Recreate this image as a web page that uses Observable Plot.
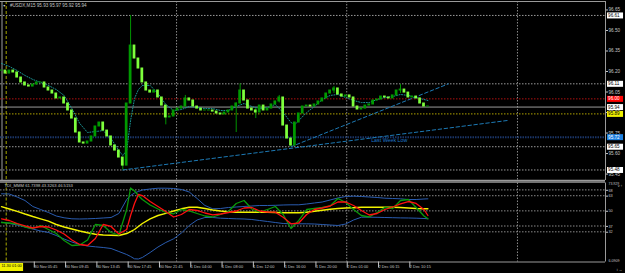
<!DOCTYPE html>
<html><head><meta charset="utf-8">
<script src="https://cdn.jsdelivr.net/npm/d3@7"></script>
<script src="https://cdn.jsdelivr.net/npm/@observablehq/plot@0.6"></script>
<style>
html,body{margin:0;padding:0;background:#000;}
#chart{position:relative;width:625px;height:273px;background:#000;overflow:hidden}
#chart svg{display:block}
</style></head><body><div id="chart"></div>
<script>
// ---------- DATA ----------
const headerText = "#USDX,M15 95.93 95.97 95.92 95.94";
const tdiText = "TDI_MMM 61.7398 43.3263 46.5153";
const cursorLabel = "11.30 01:00";

// closes, one per 2 M15 bars (bar index = k*2)
const closes = [
 96.207,96.185,96.207,96.193,96.156,96.120,96.098,96.090,96.105,96.120,
 96.120,96.083,96.061,96.039,96.003,96.010,95.966,95.915,95.856,95.754,
 95.681,95.673,95.688,95.725,95.798,95.827,95.768,95.725,95.659,95.622,
 95.571,95.512,95.966,96.390,96.295,96.222,96.120,96.061,96.046,96.061,
 96.010,95.951,95.864,95.871,95.915,95.929,95.944,96.003,95.988,95.944,
 95.929,95.915,95.915,95.915,95.907,95.893,95.886,95.900,95.915,95.944,
 95.966,96.061,95.988,95.929,95.915,95.900,95.951,95.915,95.929,95.959,
 95.981,96.010,95.805,95.710,95.659,95.827,95.893,95.944,95.951,95.944,
 95.959,95.981,96.003,96.039,96.061,96.076,96.032,96.017,96.025,96.010,
 95.944,95.922,95.929,95.951,95.959,95.988,95.995,96.017,96.010,96.003,
 96.025,96.061,96.068,96.046,96.010,96.017,96.003,95.966,95.944,95.944
];
const barStep = 2;
const wickBars  = [62, 66, 84, 94, 120, 122, 130, 142, 148, 170, 204];
const wickHighs = [95.57, 96.61, 95.95, 96.025, 95.97, 96.11, 95.93, 96.025, 95.70, 96.09, 96.105];
const wickLows  = [95.48, 95.97, 95.81, 95.98, 95.754, 96.03, 95.856, 95.97, 95.65, 96.04, 96.04];

const maBars = [0,4,8,12,16,20,24,28,32,36,40,44,48,52,56,60,62,64,66,68,70,72,76,80,84,88,92,96,100,104,108,112,116,120,124,128,132,136,140,144,148,150,152,156,160,164,168,172,176,180,184,188,192,196,200,204,208,212,218];
const maValues = [96.259,96.237,96.207,96.171,96.142,96.120,96.098,96.068,96.025,95.929,95.820,95.754,95.761,95.768,95.710,95.622,95.586,95.622,95.842,96.003,96.068,96.098,96.098,96.039,95.959,95.915,95.922,95.944,95.937,95.929,95.929,95.915,95.915,95.944,95.966,95.944,95.929,95.937,95.959,95.900,95.827,95.812,95.842,95.900,95.944,95.995,96.025,96.032,96.010,95.988,95.973,95.973,95.995,96.010,96.017,96.032,96.025,96.010,95.988];

const weekLowBars = [62, 258.7];
const weekLowPrices = [95.48, 95.842];
const trendBars = [148, 228.5];
const trendPrices = [95.65, 96.11];
const weekLowLabel = {text: "Last Week Low", bar: 189, price: 95.70};

const levelValues = [96.61, 96.11, 96.00, 95.94, 95.89, 95.72, 95.65, 95.48];
const levelKinds  = ["grey","grey","red","bid","yellow","blue","grey","grey"];
const priceTicks = [96.65, 96.50, 96.35, 96.20, 96.05, 95.90, 95.75, 95.60, 95.45];

const gridBars = [89.5, 176.5, 263.8];
const cursorBar = 2.4;
const edgeBar = 0.26;

const timeTickBars = [16,32,48,64,80,96,112,128,144,160,176,192,208];
const timeLabels = ["30 Nov 05:45","30 Nov 09:45","30 Nov 13:45","30 Nov 17:45","30 Nov 21:45","1 Dec 04:00","1 Dec 08:00","1 Dec 12:00","1 Dec 16:00","1 Dec 20:00","2 Dec 01:00","2 Dec 06:15","2 Dec 10:15"];

const tdiBars = [0,4,8,12,16,20,24,28,32,36,40,44,48,52,56,60,64,66,68,70,72,76,80,84,88,92,96,100,104,108,112,116,120,124,128,132,136,140,144,148,152,156,160,164,168,172,176,180,184,188,192,196,200,204,208,212,216,218];
const tdiUpper = [64.66,64.48,61.91,58.90,53.75,51.17,48.60,45.59,44.05,43.19,43.02,43.19,43.45,43.88,44.30,47.74,59.76,63.19,65.34,66.63,67.92,68.78,69.46,69.46,69.21,68.35,66.20,60.62,54.61,51.77,52.03,52.89,53.32,53.75,54.18,54.61,54.61,54.78,55.04,55.21,55.21,55.90,56.76,57.61,59.33,61.05,62.34,62.60,62.34,61.91,61.48,60.88,60.62,60.36,59.76,59.76,60.19,60.36];
const tdiLower = [40.27,39.15,37.86,36.15,34.43,32.71,31.42,28.85,25.84,23.26,21.12,19.83,19.14,18.54,17.69,15.11,12.53,10.82,8.84,8.67,9.96,14.25,18.97,22.84,26.01,31.00,37.44,42.16,44.30,44.30,43.70,43.45,43.19,43.02,42.59,41.73,40.87,40.01,39.15,38.89,38.89,38.89,38.72,38.29,37.86,37.44,38.72,42.16,44.56,44.56,44.47,44.30,44.13,43.96,43.88,43.70,43.45,43.19];
const tdiMid = [53.58,51.60,49.63,47.31,45.16,43.19,41.13,38.29,36.15,34.43,32.71,31.17,29.96,29.28,29.02,28.85,30.56,32.28,34.00,36.58,39.15,43.19,46.02,47.91,49.89,51.77,53.15,53.06,52.03,50.74,49.89,49.20,48.86,48.86,48.86,48.86,48.86,48.60,48.43,48.34,48.34,48.77,49.63,50.49,51.43,52.03,52.46,52.72,53.06,53.15,53.15,53.15,53.06,52.89,52.46,52.03,51.77,51.77];
const tdiSignal = [43.19,41.73,39.15,37.01,35.29,36.58,36.15,33.57,30.14,24.98,21.12,20.26,26.27,38.29,36.58,30.14,34.00,46.02,56.30,64.05,63.19,58.04,53.75,49.46,44.73,46.88,51.17,50.32,48.17,46.62,47.31,48.60,49.89,52.46,52.89,49.89,49.03,48.86,44.56,38.89,39.58,46.88,51.17,52.46,54.18,57.61,57.61,54.61,50.32,46.45,47.74,51.17,53.32,56.07,58.04,56.33,51.17,46.02];
const tdiRsi = [40.01,39.58,38.72,36.15,34.86,37.44,34.00,30.56,24.55,20.26,20.69,24.98,38.29,37.44,31.42,29.28,51.17,69.64,67.06,63.19,59.76,55.04,51.60,48.60,47.48,51.17,49.89,47.74,45.59,44.73,46.88,49.46,56.33,58.90,51.60,49.03,51.17,53.75,46.88,34.86,41.73,51.17,52.03,52.89,54.18,60.62,57.19,51.17,46.02,44.73,48.60,52.89,52.03,58.90,59.76,52.89,45.59,43.19];
const tdiLevels = [68, 63, 50, 37, 32];
const tdiMax = 73.929, tdiMin = 6.0909;

// ---------- STYLE ----------
const FONT = "Liberation Sans, Arial, sans-serif";
const TXT = "#c4c4c4";
const xDomain = [-0.51, 308.8];
const yMain = [95.403, 96.712];
const kindStyle = {
  grey:   {stroke: "#9a9a9a", dash: "1.5,1.5", width: 1, box: "#ffffff", ink: "#000"},
  red:    {stroke: "#b01010", dash: "1.5,1.5", width: 1, box: "#ff0000", ink: "#fff"},
  bid:    {stroke: "#9a9a9a", dash: null,      width: 1, box: "#ffffff", ink: "#000"},
  yellow: {stroke: "#b0a400", dash: "1.5,1.5", width: 1, box: "#f0f000", ink: "#000"},
  blue:   {stroke: "#1a3466", dash: "1.5,1",   width: 2, box: "#1e80e0", ink: "#fff"}
};

// ---------- BUILD ----------
const candles = closes.map((c, k) => ({i: k * barStep, o: k ? closes[k - 1] : c, c}));
const wicks = wickBars.map((b, k) => ({i: b, hi: wickHighs[k], lo: wickLows[k]}));
const ma = maBars.map((b, k) => ({i: b, v: maValues[k]}));
const wlLine = weekLowBars.map((b, k) => ({i: b, v: weekLowPrices[k]}));
const trLine = trendBars.map((b, k) => ({i: b, v: trendPrices[k]}));
const levels = levelValues.map((v, k) => ({v, kind: levelKinds[k], label: v.toFixed(2)}));

const levelMarks = Object.keys(kindStyle).map(kind => {
  const s = kindStyle[kind];
  return Plot.ruleY(levels.filter(d => d.kind === kind), {y: "v", stroke: s.stroke, strokeWidth: s.width, strokeDasharray: s.dash});
});
const boxMarks = Object.keys(kindStyle).flatMap(kind => {
  const s = kindStyle[kind];
  const data = levels.filter(d => d.kind === kind);
  return [
    Plot.ruleY(data, {y: "v", x1: xDomain[1], x2: xDomain[1] + 8.2, dx: 2, stroke: s.box, strokeWidth: 6}),
    Plot.text(data, {y: "v", x: xDomain[1], text: "label", dx: 2.6, textAnchor: "start", fill: s.ink, fontSize: 4.6})
  ];
});

const main = Plot.plot({
  width: 625, height: 181,
  marginLeft: 0, marginRight: 20, marginTop: 1, marginBottom: 1,
  style: {background: "#000", color: TXT, fontFamily: FONT, overflow: "visible"},
  x: {domain: xDomain, axis: null},
  y: {domain: yMain, axis: null},
  marks: [
    Plot.ruleX(gridBars, {stroke: "#8a8a8a", strokeDasharray: "1.5,1.5"}),
    Plot.ruleX([edgeBar], {stroke: "#a0a0a0"}),
    Plot.ruleX([cursorBar], {stroke: "#a8a800", strokeDasharray: "3,2"}),
    ...levelMarks,
    Plot.line(ma, {x: "i", y: "v", stroke: "#1a9494", strokeWidth: 1, strokeDasharray: "1,1.6"}),
    Plot.line(wlLine, {x: "i", y: "v", stroke: "#1d7ab5", strokeWidth: 1, strokeDasharray: "3.5,2.5"}),
    Plot.line(trLine, {x: "i", y: "v", stroke: "#1d7ab5", strokeWidth: 1, strokeDasharray: "3.5,2.5"}),
    Plot.ruleX(wicks, {x: "i", y1: "lo", y2: "hi", stroke: "#009400", strokeWidth: 1}),
    Plot.rect(candles.filter(d => d.c >= d.o), {x1: d => d.i - 0.7, x2: d => d.i + 0.7, y1: "o", y2: "c", fill: "#009a00", insetTop: -0.5, insetBottom: -0.5}),
    Plot.rect(candles.filter(d => d.c < d.o), {x1: d => d.i - 0.7, x2: d => d.i + 0.7, y1: "o", y2: "c", fill: "#7dff3c", insetTop: -0.5, insetBottom: -0.5}),
    Plot.text([weekLowLabel], {x: "bar", y: "price", text: "text", textAnchor: "start", fill: "#1f78c8", fontSize: 5.3}),
    Plot.text(["▼"], {frameAnchor: "top-left", dx: 2, dy: 2.8, lineAnchor: "top", fontSize: 3.6, fill: TXT}),
    Plot.text([headerText], {frameAnchor: "top-left", dx: 9.5, dy: 2.5, textAnchor: "start", lineAnchor: "top", fontSize: 4.6, fill: TXT}),
    Plot.ruleY([yMain[1]], {stroke: "#9a9a9a", strokeWidth: 1}),
    Plot.ruleY([yMain[0]], {stroke: "#9a9a9a", strokeWidth: 1.5}),
    Plot.ruleX([xDomain[1]], {stroke: "#9a9a9a", strokeWidth: 1}),
    Plot.axisY({anchor: "right", ticks: priceTicks, tickFormat: d => d.toFixed(2), tickSize: 2, tickPadding: 1, fontSize: 4.6, stroke: TXT, fill: TXT}),
    ...boxMarks
  ]
});

const tdi = (arr) => tdiBars.map((b, k) => ({i: b, v: arr[k]}));
const timeMap = new Map(timeTickBars.map((b, k) => [b, timeLabels[k]]));

const ind = Plot.plot({
  width: 625, height: 92,
  marginLeft: 0, marginRight: 20, marginTop: 1.5, marginBottom: 11.5,
  style: {background: "#000", color: TXT, fontFamily: FONT, overflow: "visible"},
  x: {domain: xDomain, axis: null},
  y: {domain: [tdiMin, tdiMax], axis: null},
  marks: [
    Plot.ruleX(gridBars, {stroke: "#8a8a8a", strokeDasharray: "1.5,1.5"}),
    Plot.ruleX([cursorBar], {stroke: "#a8a800", strokeDasharray: "3,2"}),
    Plot.ruleY(tdiLevels, {stroke: "#8a8a8a", strokeDasharray: "1.5,1.5"}),
    Plot.line(tdi(tdiUpper), {x: "i", y: "v", stroke: "#2a5cb0", strokeWidth: 1}),
    Plot.line(tdi(tdiLower), {x: "i", y: "v", stroke: "#2a5cb0", strokeWidth: 1}),
    Plot.line(tdi(tdiMid), {x: "i", y: "v", stroke: "#f2f200", strokeWidth: 1.4}),
    Plot.line(tdi(tdiRsi), {x: "i", y: "v", stroke: "#0a9a0a", strokeWidth: 1.3}),
    Plot.line(tdi(tdiSignal), {x: "i", y: "v", stroke: "#ff1010", strokeWidth: 1.3}),
    Plot.text([tdiText], {frameAnchor: "top-left", dx: 4, dy: 1.2, textAnchor: "start", lineAnchor: "top", fontSize: 4.2, fill: TXT}),
    Plot.ruleY([tdiMax], {stroke: "#9a9a9a", strokeWidth: 1.5, dy: -1}),
    Plot.ruleY([tdiMin], {stroke: "#9a9a9a", strokeWidth: 1}),
    Plot.ruleX([xDomain[1]], {stroke: "#9a9a9a", strokeWidth: 1}),
    Plot.axisY({anchor: "right", ticks: tdiLevels, tickFormat: d => String(d), tickSize: 2, tickPadding: 1, fontSize: 3.8, dy: 0.4, stroke: TXT, fill: TXT}),
    Plot.text([String(tdiMax)], {x: xDomain[1], y: tdiMax, dx: 3, dy: -0.9, textAnchor: "start", lineAnchor: "top", fontSize: 3.5, fill: TXT}),
    Plot.text([String(tdiMin)], {x: xDomain[1], y: tdiMin, dx: 3, dy: -0.5, textAnchor: "start", lineAnchor: "bottom", fontSize: 3.6, fill: TXT}),
    Plot.axisX({anchor: "bottom", ticks: timeTickBars, tickFormat: d => timeMap.get(d), tickSize: 6, tickPadding: -3, textAnchor: "start", dx: 1.5, fontSize: 3.9, stroke: TXT, fill: TXT}),
    Plot.rect([cursorLabel], {x1: xDomain[0], x2: xDomain[0] + 11.8, y1: tdiMin, y2: tdiMin, insetTop: 1.5, insetBottom: -9.5, fill: "#f0f000"}),
    Plot.text([cursorLabel], {x: xDomain[0], y: tdiMin, dx: 1, dy: 2.4, textAnchor: "start", lineAnchor: "top", fontSize: 3.9, fill: "#000"})
  ]
});

const root = document.getElementById("chart");
main.style.position = "absolute"; main.style.left = "0px"; main.style.top = "0px";
ind.style.position = "absolute"; ind.style.left = "0px"; ind.style.top = "181px";
root.appendChild(main);
root.appendChild(ind);
</script></body></html>
